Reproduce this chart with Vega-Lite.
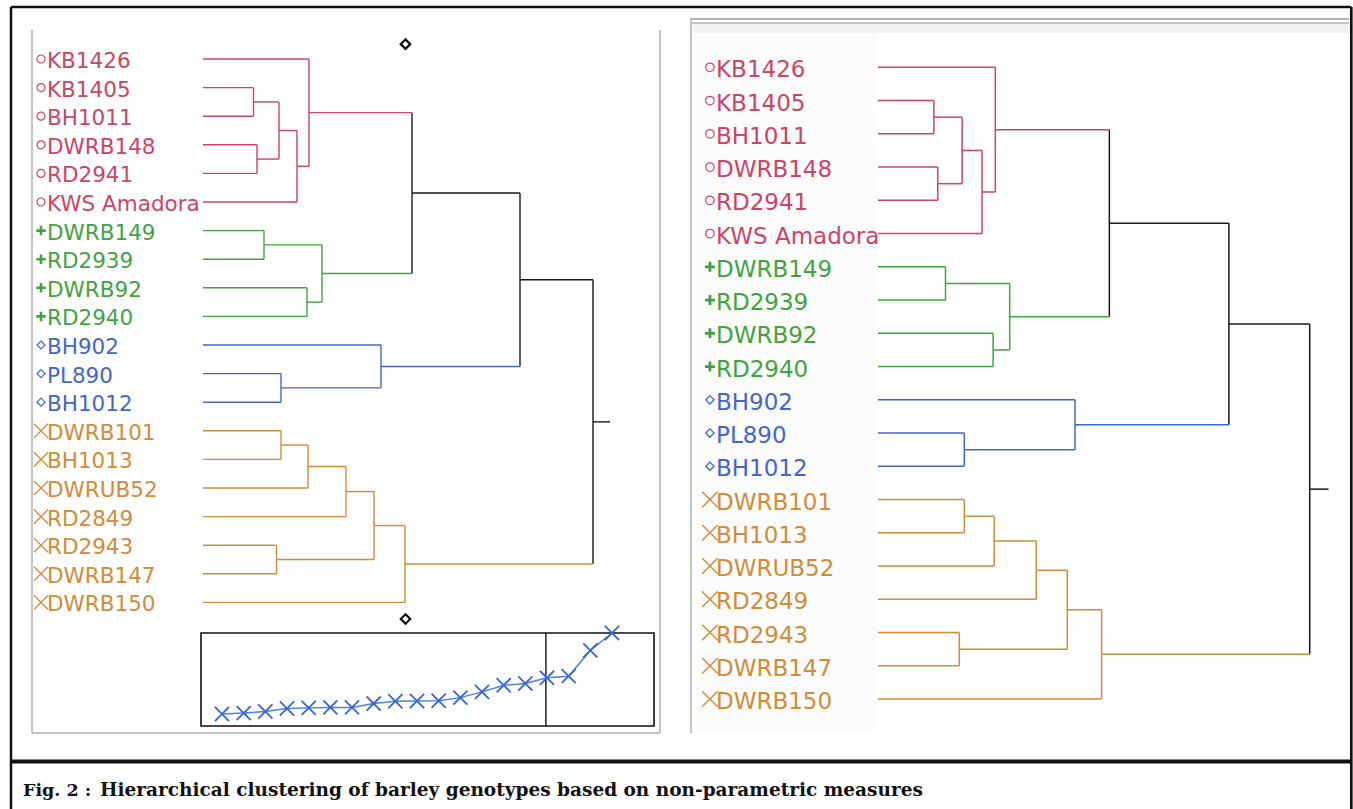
{
"$schema": "https://vega.github.io/schema/vega-lite/v6.json",
"width": 1353, "height": 809, "autosize": "none", "padding": 0, "background": "white",
"config": {"view": {"stroke": null}, "axis": {"disable": true}},
"datasets": {
"one": [{}],
"seg": [
{"x1":0.505,"x2":0.505,"y1":1,"y2":2,"grp":"r"},
{"x1":0.54,"x2":0.54,"y1":3,"y2":4,"grp":"r"},
{"x1":0.76,"x2":0.76,"y1":1.5,"y2":3.5,"grp":"r"},
{"x1":0.94,"x2":0.94,"y1":2.5,"y2":5,"grp":"r"},
{"x1":1.06,"x2":1.06,"y1":0,"y2":3.75,"grp":"r"},
{"x1":0.61,"x2":0.61,"y1":6,"y2":7,"grp":"g"},
{"x1":1.04,"x2":1.04,"y1":8,"y2":9,"grp":"g"},
{"x1":1.19,"x2":1.19,"y1":6.5,"y2":8.5,"grp":"g"},
{"x1":2.09,"x2":2.09,"y1":1.875,"y2":7.5,"grp":"k"},
{"x1":0.78,"x2":0.78,"y1":11,"y2":12,"grp":"b"},
{"x1":1.78,"x2":1.78,"y1":10,"y2":11.5,"grp":"b"},
{"x1":3.17,"x2":3.17,"y1":4.6875,"y2":10.75,"grp":"k"},
{"x1":0.78,"x2":0.78,"y1":13,"y2":14,"grp":"o"},
{"x1":1.05,"x2":1.05,"y1":13.5,"y2":15,"grp":"o"},
{"x1":1.43,"x2":1.43,"y1":14.25,"y2":16,"grp":"o"},
{"x1":0.735,"x2":0.735,"y1":17,"y2":18,"grp":"o"},
{"x1":1.71,"x2":1.71,"y1":15.125,"y2":17.5,"grp":"o"},
{"x1":2.02,"x2":2.02,"y1":16.3125,"y2":19,"grp":"o"},
{"x1":3.9,"x2":3.9,"y1":7.71875,"y2":17.65625,"grp":"k"},
{"x1":0,"x2":1.06,"y1":0,"y2":0,"grp":"r"},
{"x1":0,"x2":0.505,"y1":1,"y2":1,"grp":"r"},
{"x1":0,"x2":0.505,"y1":2,"y2":2,"grp":"r"},
{"x1":0,"x2":0.54,"y1":3,"y2":3,"grp":"r"},
{"x1":0,"x2":0.54,"y1":4,"y2":4,"grp":"r"},
{"x1":0,"x2":0.94,"y1":5,"y2":5,"grp":"r"},
{"x1":0.505,"x2":0.76,"y1":1.5,"y2":1.5,"grp":"r"},
{"x1":0.54,"x2":0.76,"y1":3.5,"y2":3.5,"grp":"r"},
{"x1":0.76,"x2":0.94,"y1":2.5,"y2":2.5,"grp":"r"},
{"x1":0.94,"x2":1.06,"y1":3.75,"y2":3.75,"grp":"r"},
{"x1":1.06,"x2":2.09,"y1":1.875,"y2":1.875,"grp":"r"},
{"x1":0,"x2":0.61,"y1":6,"y2":6,"grp":"g"},
{"x1":0,"x2":0.61,"y1":7,"y2":7,"grp":"g"},
{"x1":0,"x2":1.04,"y1":8,"y2":8,"grp":"g"},
{"x1":0,"x2":1.04,"y1":9,"y2":9,"grp":"g"},
{"x1":0.61,"x2":1.19,"y1":6.5,"y2":6.5,"grp":"g"},
{"x1":1.04,"x2":1.19,"y1":8.5,"y2":8.5,"grp":"g"},
{"x1":1.19,"x2":2.09,"y1":7.5,"y2":7.5,"grp":"g"},
{"x1":2.09,"x2":3.17,"y1":4.6875,"y2":4.6875,"grp":"k"},
{"x1":0,"x2":1.78,"y1":10,"y2":10,"grp":"b"},
{"x1":0,"x2":0.78,"y1":11,"y2":11,"grp":"b"},
{"x1":0,"x2":0.78,"y1":12,"y2":12,"grp":"b"},
{"x1":0.78,"x2":1.78,"y1":11.5,"y2":11.5,"grp":"b"},
{"x1":1.78,"x2":3.17,"y1":10.75,"y2":10.75,"grp":"b"},
{"x1":3.17,"x2":3.9,"y1":7.71875,"y2":7.71875,"grp":"k"},
{"x1":0,"x2":0.78,"y1":13,"y2":13,"grp":"o"},
{"x1":0,"x2":0.78,"y1":14,"y2":14,"grp":"o"},
{"x1":0.78,"x2":1.05,"y1":13.5,"y2":13.5,"grp":"o"},
{"x1":0,"x2":1.05,"y1":15,"y2":15,"grp":"o"},
{"x1":1.05,"x2":1.43,"y1":14.25,"y2":14.25,"grp":"o"},
{"x1":0,"x2":1.43,"y1":16,"y2":16,"grp":"o"},
{"x1":1.43,"x2":1.71,"y1":15.125,"y2":15.125,"grp":"o"},
{"x1":0,"x2":0.735,"y1":17,"y2":17,"grp":"o"},
{"x1":0,"x2":0.735,"y1":18,"y2":18,"grp":"o"},
{"x1":0.735,"x2":1.71,"y1":17.5,"y2":17.5,"grp":"o"},
{"x1":1.71,"x2":2.02,"y1":16.3125,"y2":16.3125,"grp":"o"},
{"x1":0,"x2":2.02,"y1":19,"y2":19,"grp":"o"},
{"x1":2.02,"x2":3.9,"y1":17.65625,"y2":17.65625,"grp":"o"},
{"x1":3.9,"x2":4.07,"y1":12.6875,"y2":12.6875,"grp":"k"}
],
"leaves": [
{"idx":0,"name":"KB1426","grp":"r"},
{"idx":1,"name":"KB1405","grp":"r"},
{"idx":2,"name":"BH1011","grp":"r"},
{"idx":3,"name":"DWRB148","grp":"r"},
{"idx":4,"name":"RD2941","grp":"r"},
{"idx":5,"name":"KWS Amadora","grp":"r"},
{"idx":6,"name":"DWRB149","grp":"g"},
{"idx":7,"name":"RD2939","grp":"g"},
{"idx":8,"name":"DWRB92","grp":"g"},
{"idx":9,"name":"RD2940","grp":"g"},
{"idx":10,"name":"BH902","grp":"b"},
{"idx":11,"name":"PL890","grp":"b"},
{"idx":12,"name":"BH1012","grp":"b"},
{"idx":13,"name":"DWRB101","grp":"o"},
{"idx":14,"name":"BH1013","grp":"o"},
{"idx":15,"name":"DWRUB52","grp":"o"},
{"idx":16,"name":"RD2849","grp":"o"},
{"idx":17,"name":"RD2943","grp":"o"},
{"idx":18,"name":"DWRB147","grp":"o"},
{"idx":19,"name":"DWRB150","grp":"o"}
],
"inset": [
{"rank":1,"height":0.505},{"rank":2,"height":0.54},{"rank":3,"height":0.61},{"rank":4,"height":0.735},
{"rank":5,"height":0.76},{"rank":6,"height":0.78},{"rank":7,"height":0.78},{"rank":8,"height":0.94},
{"rank":9,"height":1.04},{"rank":10,"height":1.05},{"rank":11,"height":1.06},{"rank":12,"height":1.19},
{"rank":13,"height":1.43},{"rank":14,"height":1.71},{"rank":15,"height":1.78},{"rank":16,"height":2.02},
{"rank":17,"height":2.09},{"rank":18,"height":3.17},{"rank":19,"height":3.9}
]
},
"layer": [
{
"data": {"name":"one"},
"layer": [
{"mark": {"type":"rect","color":"#f2f2f2"},
 "encoding": {"x":{"datum":693,"type":"quantitative","scale":{"domain":[0,1353],"nice":false,"zero":false},"axis":null},"x2":{"datum":1349},
 "y":{"datum":23,"type":"quantitative","scale":{"domain":[0,809],"nice":false,"zero":false,"reverse":true},"axis":null},"y2":{"datum":33}}},
{"mark": {"type":"rect","color":"#fcfcfc"},
 "encoding": {"x":{"datum":693,"type":"quantitative","scale":{"domain":[0,1353],"nice":false,"zero":false},"axis":null},"x2":{"datum":877},
 "y":{"datum":33,"type":"quantitative","scale":{"domain":[0,809],"nice":false,"zero":false,"reverse":true},"axis":null},"y2":{"datum":730}}},
{"mark": {"type":"rule","color":"#111111","strokeWidth":2.5},
 "encoding": {"x":{"datum":11,"type":"quantitative","scale":{"domain":[0,1353],"nice":false,"zero":false},"axis":null},"x2":{"datum":1351.3},
 "y":{"datum":7,"type":"quantitative","scale":{"domain":[0,809],"nice":false,"zero":false,"reverse":true},"axis":null}}},
{"mark": {"type":"rule","color":"#111111","strokeWidth":2.5},
 "encoding": {"x":{"datum":11,"type":"quantitative","scale":{"domain":[0,1353],"nice":false,"zero":false},"axis":null},
 "y":{"datum":7,"type":"quantitative","scale":{"domain":[0,809],"nice":false,"zero":false,"reverse":true},"axis":null},"y2":{"datum":812}}},
{"mark": {"type":"rule","color":"#111111","strokeWidth":2.7},
 "encoding": {"x":{"datum":1351.3,"type":"quantitative","scale":{"domain":[0,1353],"nice":false,"zero":false},"axis":null},
 "y":{"datum":7,"type":"quantitative","scale":{"domain":[0,809],"nice":false,"zero":false,"reverse":true},"axis":null},"y2":{"datum":812}}},
{"mark": {"type":"rule","color":"#111111","strokeWidth":4},
 "encoding": {"x":{"datum":11,"type":"quantitative","scale":{"domain":[0,1353],"nice":false,"zero":false},"axis":null},"x2":{"datum":1351.3},
 "y":{"datum":761.5,"type":"quantitative","scale":{"domain":[0,809],"nice":false,"zero":false,"reverse":true},"axis":null}}},
{"mark": {"type":"rule","color":"#b0b0b0","strokeWidth":1.5},
 "encoding": {"x":{"datum":32,"type":"quantitative","scale":{"domain":[0,1353],"nice":false,"zero":false},"axis":null},
 "y":{"datum":30,"type":"quantitative","scale":{"domain":[0,809],"nice":false,"zero":false,"reverse":true},"axis":null},"y2":{"datum":733}}},
{"mark": {"type":"rule","color":"#b0b0b0","strokeWidth":1.5},
 "encoding": {"x":{"datum":660,"type":"quantitative","scale":{"domain":[0,1353],"nice":false,"zero":false},"axis":null},
 "y":{"datum":30,"type":"quantitative","scale":{"domain":[0,809],"nice":false,"zero":false,"reverse":true},"axis":null},"y2":{"datum":733}}},
{"mark": {"type":"rule","color":"#b0b0b0","strokeWidth":1.5},
 "encoding": {"x":{"datum":32,"type":"quantitative","scale":{"domain":[0,1353],"nice":false,"zero":false},"axis":null},"x2":{"datum":660},
 "y":{"datum":733,"type":"quantitative","scale":{"domain":[0,809],"nice":false,"zero":false,"reverse":true},"axis":null}}},
{"mark": {"type":"rule","color":"#9a9a9a","strokeWidth":1.5},
 "encoding": {"x":{"datum":691,"type":"quantitative","scale":{"domain":[0,1353],"nice":false,"zero":false},"axis":null},"x2":{"datum":1349},
 "y":{"datum":19,"type":"quantitative","scale":{"domain":[0,809],"nice":false,"zero":false,"reverse":true},"axis":null}}},
{"mark": {"type":"rule","color":"#b5b5b5","strokeWidth":1.5},
 "encoding": {"x":{"datum":691,"type":"quantitative","scale":{"domain":[0,1353],"nice":false,"zero":false},"axis":null},"x2":{"datum":1349},
 "y":{"datum":23,"type":"quantitative","scale":{"domain":[0,809],"nice":false,"zero":false,"reverse":true},"axis":null}}},
{"mark": {"type":"rule","color":"#b0b0b0","strokeWidth":1.5},
 "encoding": {"x":{"datum":691,"type":"quantitative","scale":{"domain":[0,1353],"nice":false,"zero":false},"axis":null},
 "y":{"datum":18,"type":"quantitative","scale":{"domain":[0,809],"nice":false,"zero":false,"reverse":true},"axis":null},"y2":{"datum":733}}},
{"mark": {"type":"text","text":"Fig. 2 :","font":"DejaVu Serif","fontWeight":"bold","fontSize":17.5,"align":"left","baseline":"alphabetic","color":"#111111"},
 "encoding": {"x":{"datum":23,"type":"quantitative","scale":{"domain":[0,1353],"nice":false,"zero":false},"axis":null},
 "y":{"datum":796,"type":"quantitative","scale":{"domain":[0,809],"nice":false,"zero":false,"reverse":true},"axis":null}}},
{"mark": {"type":"text","text":"Hierarchical clustering of barley genotypes based on non-parametric measures","font":"DejaVu Serif","fontWeight":"bold","fontSize":18.5,"align":"left","baseline":"alphabetic","color":"#111111"},
 "encoding": {"x":{"datum":100,"type":"quantitative","scale":{"domain":[0,1353],"nice":false,"zero":false},"axis":null},
 "y":{"datum":796,"type":"quantitative","scale":{"domain":[0,809],"nice":false,"zero":false,"reverse":true},"axis":null}}}
]
},
{
"layer": [
{"data": {"name":"seg"},
 "mark": {"type":"rule","strokeWidth":1.4},
 "encoding": {
  "x":{"field":"x1","type":"quantitative","scale":{"domain":[-2.03,11.5],"nice":false,"zero":false},"axis":null},
  "x2":{"field":"x2"},
  "y":{"field":"y1","type":"quantitative","scale":{"domain":[-2.063,26.224],"nice":false,"zero":false,"reverse":true},"axis":null},
  "y2":{"field":"y2"},
  "color":{"field":"grp","type":"nominal","scale":{"domain":["r","g","b","o","k"],"range":["#cc4466","#3fa43f","#4466cc","#d08c38","#1a1a1a"]},"legend":null}}},
{"data": {"name":"leaves"},
 "mark": {"type":"text","align":"left","baseline":"middle","dy":3,"font":"DejaVu Sans","fontSize":21.5},
 "encoding": {
  "x":{"datum":-1.56,"type":"quantitative","scale":{"domain":[-2.03,11.5],"nice":false,"zero":false},"axis":null},
  "y":{"field":"idx","type":"quantitative","scale":{"domain":[-2.063,26.224],"nice":false,"zero":false,"reverse":true},"axis":null},
  "text":{"field":"name"},
  "color":{"field":"grp","type":"nominal","scale":{"domain":["r","g","b","o","k"],"range":["#cc4466","#3fa43f","#4466cc","#d08c38","#1a1a1a"]},"legend":null}}},
{"data": {"name":"leaves"},
 "mark": {"type":"point","filled":false,"opacity":1},
 "encoding": {
  "x":{"datum":-1.62,"type":"quantitative","scale":{"domain":[-2.03,11.5],"nice":false,"zero":false},"axis":null},
  "y":{"field":"idx","type":"quantitative","scale":{"domain":[-2.063,26.224],"nice":false,"zero":false,"reverse":true},"axis":null},
  "color":{"field":"grp","type":"nominal","scale":{"domain":["r","g","b","o","k"],"range":["#cc4466","#3fa43f","#4466cc","#d08c38","#1a1a1a"]},"legend":null},
  "shape":{"field":"grp","type":"nominal","scale":{"domain":["r","g","b","o"],"range":["circle","M-1,0L1,0M0,-1L0,1","M0,-1L1,0L0,1L-1,0Z","M-1,-1L1,1M-1,1L1,-1"]},"legend":null},
  "size":{"field":"grp","type":"nominal","scale":{"type":"ordinal","domain":["r","g","b","o"],"range":[64,90,64,200]},"legend":null},
  "strokeWidth":{"field":"grp","type":"nominal","scale":{"type":"ordinal","domain":["r","g","b","o"],"range":[1.2,2.6,1.2,1.3]},"legend":null}}},
{"data": {"name":"one"},
 "mark": {"type":"point","shape":"M0,-1L1,0L0,1L-1,0Z","filled":false,"color":"#111111","strokeWidth":2.2,"size":90,"opacity":1},
 "encoding": {
  "x":{"datum":2.025,"type":"quantitative","scale":{"domain":[-2.03,11.5],"nice":false,"zero":false},"axis":null},
  "y":{"datum":-0.52,"type":"quantitative","scale":{"domain":[-2.063,26.224],"nice":false,"zero":false,"reverse":true},"axis":null}}},
{"data": {"name":"one"},
 "mark": {"type":"point","shape":"M0,-1L1,0L0,1L-1,0Z","filled":false,"color":"#111111","strokeWidth":2.2,"size":90,"opacity":1},
 "encoding": {
  "x":{"datum":2.025,"type":"quantitative","scale":{"domain":[-2.03,11.5],"nice":false,"zero":false},"axis":null},
  "y":{"datum":19.58,"type":"quantitative","scale":{"domain":[-2.063,26.224],"nice":false,"zero":false,"reverse":true},"axis":null}}}
]
},
{
"layer": [
{"data": {"name":"seg"},
 "mark": {"type":"rule","strokeWidth":1.5},
 "encoding": {
  "x":{"field":"x1","type":"quantitative","scale":{"domain":[-7.931,4.291],"nice":false,"zero":false},"axis":null},
  "x2":{"field":"x2"},
  "y":{"field":"y1","type":"quantitative","scale":{"domain":[-2.024,22.307],"nice":false,"zero":false,"reverse":true},"axis":null},
  "y2":{"field":"y2"},
  "color":{"field":"grp","type":"nominal","scale":{"domain":["r","g","b","o","k"],"range":["#cc4466","#3fa43f","#4466cc","#d08c38","#1a1a1a"]},"legend":null}}},
{"data": {"name":"leaves"},
 "mark": {"type":"text","align":"left","baseline":"middle","dy":3,"font":"DejaVu Sans","fontSize":23},
 "encoding": {
  "x":{"datum":-1.463,"type":"quantitative","scale":{"domain":[-7.931,4.291],"nice":false,"zero":false},"axis":null},
  "y":{"field":"idx","type":"quantitative","scale":{"domain":[-2.024,22.307],"nice":false,"zero":false,"reverse":true},"axis":null},
  "text":{"field":"name"},
  "color":{"field":"grp","type":"nominal","scale":{"domain":["r","g","b","o","k"],"range":["#cc4466","#3fa43f","#4466cc","#d08c38","#1a1a1a"]},"legend":null}}},
{"data": {"name":"leaves"},
 "mark": {"type":"point","filled":false,"opacity":1},
 "encoding": {
  "x":{"datum":-1.518,"type":"quantitative","scale":{"domain":[-7.931,4.291],"nice":false,"zero":false},"axis":null},
  "y":{"field":"idx","type":"quantitative","scale":{"domain":[-2.024,22.307],"nice":false,"zero":false,"reverse":true},"axis":null},
  "color":{"field":"grp","type":"nominal","scale":{"domain":["r","g","b","o","k"],"range":["#cc4466","#3fa43f","#4466cc","#d08c38","#1a1a1a"]},"legend":null},
  "shape":{"field":"grp","type":"nominal","scale":{"domain":["r","g","b","o"],"range":["circle","M-1,0L1,0M0,-1L0,1","M0,-1L1,0L0,1L-1,0Z","M-1,-1L1,1M-1,1L1,-1"]},"legend":null},
  "size":{"field":"grp","type":"nominal","scale":{"type":"ordinal","domain":["r","g","b","o"],"range":[72,100,70,240]},"legend":null},
  "strokeWidth":{"field":"grp","type":"nominal","scale":{"type":"ordinal","domain":["r","g","b","o"],"range":[1.2,2.8,1.3,1.4]},"legend":null}}}
]
},
{
"layer": [
{"data": {"name":"one"},
 "mark": {"type":"rect","fill":"white","stroke":"#111111","strokeWidth":1.6},
 "encoding": {
  "x":{"datum":0.031,"type":"quantitative","scale":{"domain":[-9.246,53.2],"nice":false,"zero":false},"axis":null},"x2":{"datum":20.94},
  "y":{"datum":0,"type":"quantitative","scale":{"domain":[-3.48,30.44],"nice":false,"zero":false},"axis":null},"y2":{"datum":3.9}}},
{"data": {"name":"one"},
 "mark": {"type":"rule","color":"#111111","strokeWidth":1.4},
 "encoding": {
  "x":{"datum":15.95,"type":"quantitative","scale":{"domain":[-9.246,53.2],"nice":false,"zero":false},"axis":null},
  "y":{"datum":0,"type":"quantitative","scale":{"domain":[-3.48,30.44],"nice":false,"zero":false},"axis":null},"y2":{"datum":3.9}}},
{"data": {"name":"inset"},
 "mark": {"type":"line","color":"#4f7fe0","strokeWidth":1.5},
 "encoding": {
  "x":{"field":"rank","type":"quantitative","scale":{"domain":[-9.246,53.2],"nice":false,"zero":false},"axis":null},
  "y":{"field":"height","type":"quantitative","scale":{"domain":[-3.48,30.44],"nice":false,"zero":false},"axis":null}}},
{"data": {"name":"inset"},
 "mark": {"type":"point","shape":"M-1,-1L1,1M-1,1L1,-1","filled":false,"color":"#3464e0","strokeWidth":1.8,"size":200,"opacity":1},
 "encoding": {
  "x":{"field":"rank","type":"quantitative","scale":{"domain":[-9.246,53.2],"nice":false,"zero":false},"axis":null},
  "y":{"field":"height","type":"quantitative","scale":{"domain":[-3.48,30.44],"nice":false,"zero":false},"axis":null}}}
]
}
],
"resolve": {"scale": {"x":"independent","y":"independent","color":"independent","shape":"independent","size":"independent","strokeWidth":"independent"}}
}
